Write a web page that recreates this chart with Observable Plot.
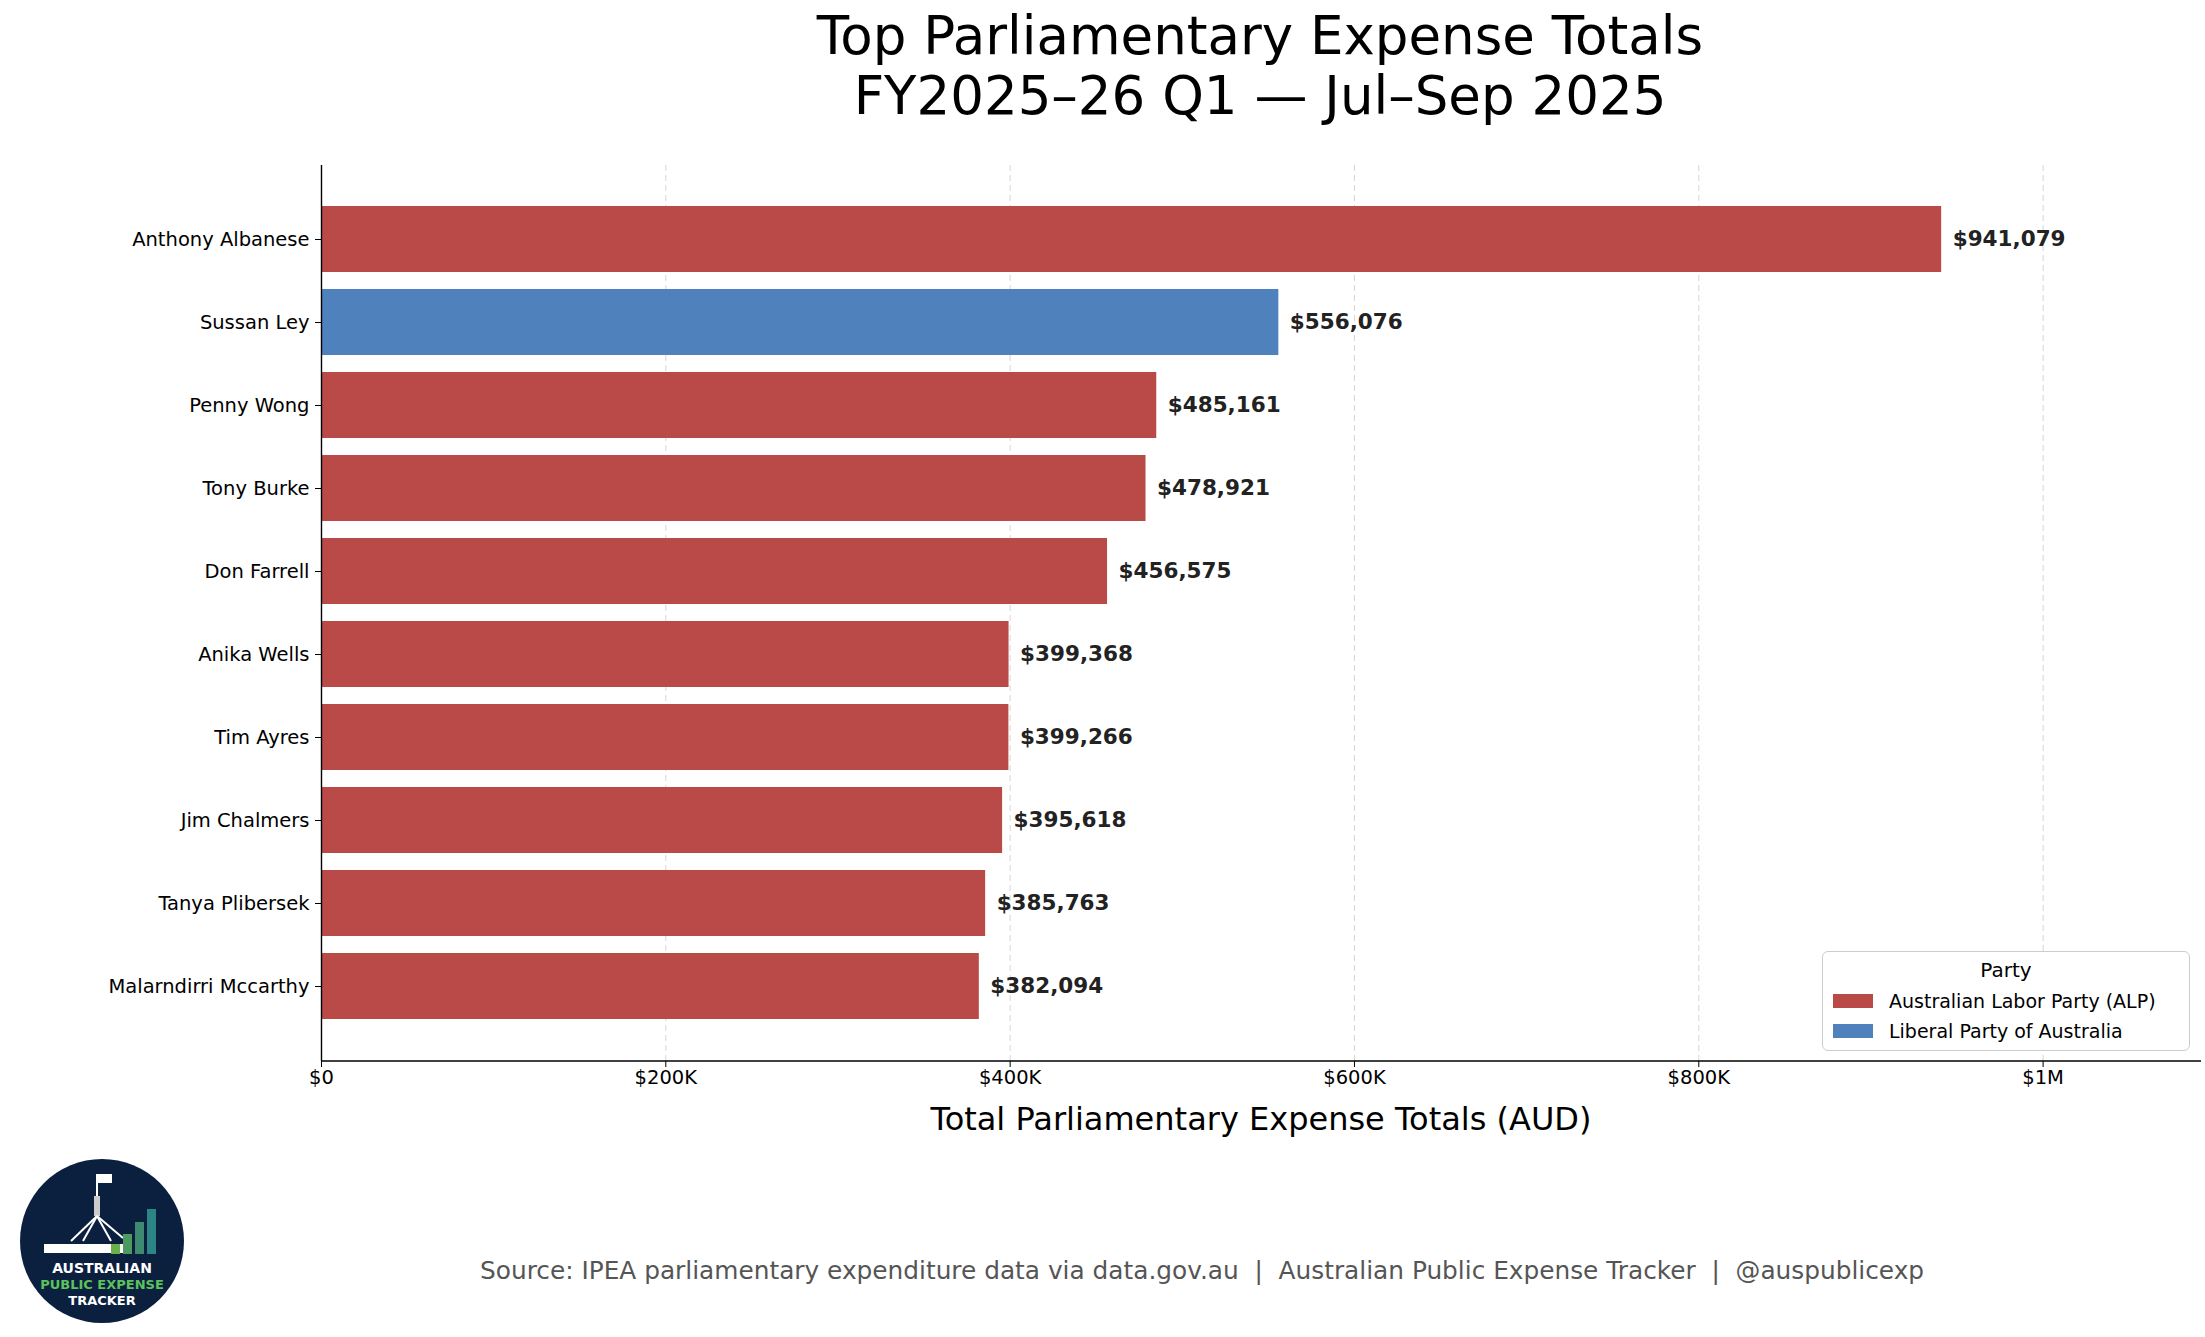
<!DOCTYPE html>
<html><head><meta charset="utf-8">
<script src="https://cdn.jsdelivr.net/npm/d3@7"></script>
<script src="https://cdn.jsdelivr.net/npm/@observablehq/plot@0.6"></script>
<style>
body{margin:0;background:#fff;font-family:"DejaVu Sans",sans-serif;}
#wrap{position:relative;width:2205px;height:1337px;}
.abs{position:absolute;}
</style></head><body><div id="wrap"></div>
<script>
const names = ["Anthony Albanese","Sussan Ley","Penny Wong","Tony Burke","Don Farrell","Anika Wells","Tim Ayres","Jim Chalmers","Tanya Plibersek","Malarndirri Mccarthy"];
const totals = [941079,556076,485161,478921,456575,399368,399266,395618,385763,382094];
const parties = ["ALP","LIB","ALP","ALP","ALP","ALP","ALP","ALP","ALP","ALP"];
const partyNames = {ALP:"Australian Labor Party (ALP)", LIB:"Liberal Party of Australia"};
const partyColors = {ALP:"#b94a48", LIB:"#4f81bd"};
const xTicks = [0,200000,400000,600000,800000,1000000];
const xTickLabels = ["$0","$200K","$400K","$600K","$800K","$1M"];
const data = names.map((n,i)=>({name:n,total:totals[i],party:parties[i]}));
const wrap = document.getElementById("wrap");

const plot = Plot.plot({
  width:2205, height:1100,
  marginLeft:321, marginRight:4, marginTop:168, marginBottom:36,
  style:{fontFamily:"DejaVu Sans, sans-serif", fontSize:"19.5px", color:"#000"},
  x:{domain:[0,1092000], label:null},
  y:{domain:names, range:[192,1040], padding:0.2, paddingOuter:0.2, label:null},
  marks:[
    Plot.gridX(xTicks,{stroke:"#ccc", strokeDasharray:"6,4", strokeOpacity:0.8}),
    Plot.barX(data,{y:"name", x:"total", fill:d=>partyColors[d.party]}),
    Plot.text(data,{y:"name", x:"total", text:d=>"$"+d3.format(",")(d.total), textAnchor:"start", dx:11, fontWeight:"bold", fontSize:21.5, fill:"#222"}),
    Plot.ruleX([0],{stroke:"#000", strokeWidth:1.4}),
    Plot.axisX({ticks:xTicks, tickFormat:d=>xTickLabels[xTicks.indexOf(d)], tickSize:6, fontSize:19.5, label:null}),
    Plot.axisY({tickSize:6, fontSize:19.5, label:null, tickPadding:6}),
    () => { const g=document.createElementNS("http://www.w3.org/2000/svg","line");
      g.setAttribute("x1",321);g.setAttribute("x2",2201);g.setAttribute("y1",1064);g.setAttribute("y2",1064);
      g.setAttribute("stroke","#000");g.setAttribute("stroke-width",1.4);return g;}
  ]
});
plot.style.position="absolute"; plot.style.left="0"; plot.style.top="-3px";
wrap.appendChild(plot);

function add(html, css){const d=document.createElement("div");d.className="abs";d.innerHTML=html;Object.assign(d.style,css);wrap.appendChild(d);return d;}
add("Top Parliamentary Expense Totals<br>FY2025–26 Q1 — Jul–Sep 2025",{left:"0",width:"2520px",top:"6px",textAlign:"center",fontSize:"53px",lineHeight:"60px",color:"#000"});
add("Total Parliamentary Expense Totals (AUD)",{left:"321px",width:"1880px",top:"1100px",textAlign:"center",fontSize:"32px"});
add("Source: IPEA parliamentary expenditure data via data.gov.au &nbsp;|&nbsp; Australian Public Expense Tracker &nbsp;|&nbsp; @auspublicexp",{left:"480px",top:"1256px",fontSize:"24.8px",color:"#555",whiteSpace:"nowrap"});
add(`<div style="text-align:center;font-size:20px;margin-bottom:4px">Party</div>`+
  Object.keys(partyNames).map(k=>`<div style="display:flex;align-items:center;font-size:19px;height:30px"><span style="display:inline-block;width:40px;height:14px;background:${partyColors[k]};margin-right:16px"></span>${partyNames[k]}</div>`).join(""),
  {left:"1822px",top:"951px",width:"346px",height:"86px",padding:"6px 10px",border:"1.5px solid #ccc",borderRadius:"6px",background:"#fff"});
add(`<svg width="166" height="166" viewBox="0 0 166 166">
<circle cx="83" cy="83" r="82" fill="#0b1f3f"/>
<rect x="77" y="16" width="2" height="22" fill="#fff"/><rect x="79" y="16" width="14" height="9" fill="#fff"/>
<rect x="75" y="38" width="6" height="20" fill="#ccc"/>
<g stroke="#fff" stroke-width="2"><line x1="78" y1="58" x2="52" y2="83"/><line x1="78" y1="58" x2="64" y2="83"/><line x1="78" y1="58" x2="92" y2="83"/><line x1="78" y1="58" x2="104" y2="80"/></g>
<rect x="25" y="86" width="80" height="9" fill="#fff"/>
<rect x="92" y="86" width="9" height="10" fill="#6cb04a"/><rect x="104" y="76" width="9" height="20" fill="#4c9a60"/>
<rect x="116" y="64" width="9" height="32" fill="#3d8a70"/><rect x="128" y="51" width="9" height="45" fill="#2b8585"/>
<text x="83" y="115" fill="#fff" font-size="14" font-weight="bold" text-anchor="middle" font-family="DejaVu Sans">AUSTRALIAN</text>
<text x="83" y="131" fill="#5cc25c" font-size="13" font-weight="bold" text-anchor="middle" font-family="DejaVu Sans">PUBLIC EXPENSE</text>
<text x="83" y="147" fill="#fff" font-size="13" font-weight="bold" text-anchor="middle" font-family="DejaVu Sans">TRACKER</text>
</svg>`,{left:"19px",top:"1158px"});
</script></body></html>
